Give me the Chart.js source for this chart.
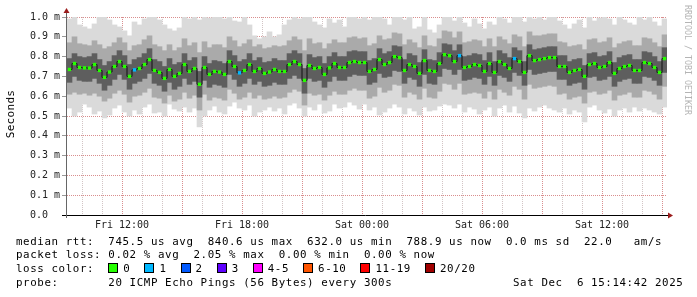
<!DOCTYPE html>
<html>
<head>
<meta charset="utf-8">
<script src="https://cdn.jsdelivr.net/npm/chart.js@4.4.1/dist/chart.umd.min.js"></script>
<style>
  body { margin: 0; background: #fff; }
  #wrap { position: relative; width: 697px; height: 297px; background: #fff; overflow: hidden; }
  #smoke { position: absolute; left: 0; top: 0; }
  .mono { position: absolute; font-family: 'DejaVu Sans Mono', monospace; color: #000; white-space: pre; }
  .line { left: 16px; font-size: 10.8px; letter-spacing: 0.6px; line-height: 14px; }
  .ylab { left: -19px; top: 107px; width: 60px; height: 14px; font-size: 11px; letter-spacing: 0.3px; line-height: 14px; text-align: center; transform: rotate(-90deg); }
  .mark { left: 683px; top: 5px; font-size: 8.3px; color: #b4b4b4; writing-mode: vertical-rl; }
  .box { display: inline-block; width: 8px; height: 8px; border: 1px solid #000; vertical-align: -1px; margin-right: 5px; }
  .item { margin-right: 14px; }
</style>
</head>
<body>
<div id="wrap">
  <canvas id="smoke" width="697" height="297"></canvas>
  <div class="mono ylab">Seconds</div>
  <div class="mono mark">RRDTOOL / TOBI OETIKER</div>
  <div class="mono line" id="l1" style="top:235px"></div>
  <div class="mono line" id="l2" style="top:248px"></div>
  <div class="mono line" id="l3" style="top:262px"></div>
  <div class="mono line" id="l4" style="top:276px"></div>
  <div class="mono line" id="l5" style="top:276px;left:513px"></div>
</div>
<script>
// valores em microssegundos, um passo a cada 15 min (Fri 09:15 .. Sat 15:15)
const median = [
  735, 765, 745, 743, 742, 760, 730, 695, 722, 750,
  775, 750, 700, 733, 740, 760, 785, 730, 720, 690,
  735, 700, 715, 760, 725, 740, 660, 745, 710, 725,
  722, 710, 775, 750, 718, 730, 760, 725, 740, 715,
  722, 735, 725, 725, 760, 775, 760, 680, 755, 740,
  745, 710, 743, 765, 745, 745, 770, 775, 770, 770,
  725, 735, 785, 760, 770, 800, 795, 730, 760, 750,
  715, 780, 730, 725, 765, 810, 805, 775, 805, 745,
  750, 760, 755, 725, 765, 720, 775, 760, 740, 790,
  775, 720, 805, 780, 785, 790, 795, 795, 750, 750,
  720, 730, 735, 700, 760, 765, 745, 750, 770, 715,
  740, 750, 755, 730, 730, 770, 765, 745, 720, 790
];
const smokeMax = [
  990, 1000, 960, 950, 940, 965, 1000, 1000, 985, 960,
  950, 930, 905, 975, 960, 990, 1000, 1000, 985, 960,
  940, 930, 945, 1000, 990, 1000, 985, 1000, 995, 1000,
  1000, 990, 1000, 980, 975, 1000, 960, 905, 890, 900,
  925, 900, 910, 960, 985, 1000, 990, 1000, 1000, 975,
  960, 945, 990, 970, 985, 950, 1000, 1000, 990, 1000,
  985, 1000, 1000, 990, 960, 1000, 1000, 985, 1000, 940,
  950, 1000, 935, 920, 960, 1000, 1000, 980, 1000, 970,
  950, 990, 965, 940, 975, 960, 1000, 990, 970, 1000,
  1000, 975, 1000, 990, 1000, 985, 1000, 1000, 980, 960,
  940, 965, 985, 945, 1000, 980, 995, 1000, 990, 960,
  1000, 985, 970, 960, 1000, 985, 1000, 975, 955, 990
];
const smokeMin = [
  540, 500, 520, 560, 545, 510, 525, 490, 505, 540,
  555, 520, 500, 530, 510, 545, 560, 515, 520, 500,
  560, 535, 525, 545, 520, 540, 445, 500, 530, 550,
  520, 510, 550, 570, 540, 530, 555, 500, 520, 530,
  545, 525, 540, 510, 555, 565, 540, 500, 545, 530,
  560, 515, 525, 560, 540, 545, 570, 555, 535, 560,
  530, 545, 505, 520, 540, 560, 545, 510, 540, 525,
  505, 545, 525, 530, 550, 560, 555, 540, 560, 520,
  545, 535, 510, 530, 545, 500, 540, 555, 520, 550,
  515, 490, 540, 525, 545, 555, 540, 530, 520, 540,
  510, 530, 520, 470, 545, 555, 530, 515, 535, 500,
  530, 540, 520, 545, 525, 540, 530, 520, 510, 545
];
const smokeHi2 = [
  870, 900, 865, 860, 855, 880, 860, 840, 850, 870,
  895, 870, 830, 855, 860, 885, 905, 860, 850, 830,
  860, 830, 845, 890, 855, 870, 820, 875, 845, 860,
  860, 845, 900, 880, 850, 865, 885, 850, 860, 840,
  845, 855, 850, 855, 880, 900, 885, 830, 890, 865,
  870, 840, 865, 885, 870, 870, 895, 900, 890, 895,
  855, 865, 905, 885, 890, 920, 915, 860, 885, 870,
  845, 905, 855, 850, 890, 930, 925, 895, 925, 870,
  875, 885, 880, 850, 890, 850, 900, 885, 865, 910,
  900, 850, 925, 905, 905, 910, 915, 915, 875, 870,
  850, 855, 860, 835, 885, 890, 870, 875, 895, 845,
  865, 875, 880, 855, 855, 895, 890, 870, 850, 910
];
const smokeLo2 = [
  610, 620, 610, 615, 605, 615, 600, 575, 590, 615,
  630, 610, 570, 600, 605, 620, 640, 595, 590, 565,
  605, 575, 585, 620, 590, 605, 530, 610, 580, 595,
  590, 580, 635, 615, 585, 595, 620, 590, 605, 585,
  590, 600, 590, 595, 620, 635, 625, 555, 615, 605,
  610, 580, 605, 625, 610, 610, 630, 640, 630, 630,
  590, 600, 645, 620, 630, 660, 655, 595, 620, 610,
  585, 640, 595, 590, 625, 665, 660, 635, 665, 610,
  615, 620, 615, 590, 625, 585, 635, 620, 605, 650,
  635, 585, 660, 640, 645, 650, 655, 650, 610, 615,
  585, 595, 600, 565, 620, 625, 610, 615, 630, 580,
  605, 610, 620, 595, 595, 630, 625, 610, 585, 650
];
const smokeHi1 = [
  790, 815, 800, 795, 800, 815, 785, 755, 775, 805,
  830, 805, 760, 785, 795, 815, 840, 785, 775, 750,
  790, 760, 770, 815, 780, 795, 725, 800, 765, 780,
  775, 765, 830, 805, 775, 785, 815, 780, 795, 770,
  775, 790, 780, 780, 815, 830, 815, 740, 810, 795,
  800, 765, 800, 820, 800, 800, 825, 830, 825, 825,
  780, 790, 840, 815, 825, 855, 850, 785, 815, 805,
  770, 835, 785, 780, 820, 865, 860, 830, 860, 800,
  805, 815, 810, 780, 820, 775, 830, 815, 795, 845,
  830, 775, 860, 835, 840, 845, 850, 850, 805, 805,
  775, 785, 790, 755, 815, 820, 800, 805, 825, 770,
  795, 805, 810, 785, 785, 825, 820, 800, 775, 845
];
const smokeLo1 = [
  670, 700, 680, 675, 675, 690, 665, 630, 655, 685,
  710, 685, 635, 665, 675, 690, 715, 665, 655, 625,
  670, 635, 650, 690, 660, 675, 595, 680, 645, 660,
  655, 645, 710, 685, 650, 665, 690, 660, 675, 650,
  655, 670, 660, 660, 690, 705, 690, 615, 690, 675,
  680, 645, 675, 700, 680, 680, 700, 710, 705, 705,
  660, 670, 715, 695, 700, 730, 725, 665, 695, 685,
  650, 710, 665, 660, 700, 740, 735, 710, 735, 680,
  685, 695, 690, 660, 700, 655, 705, 695, 675, 720,
  705, 655, 735, 710, 715, 720, 725, 725, 685, 685,
  655, 665, 670, 635, 695, 700, 680, 685, 700, 650,
  675, 685, 690, 665, 665, 700, 695, 680, 655, 720
];
// passos com 1 ping perdido
const lossSteps = [13, 34, 78, 89];

const xLabelHours = [2.75, 8.75, 14.75, 20.75, 26.75];
const xLabels = ['Fri 12:00', 'Fri 18:00', 'Sat 00:00', 'Sat 06:00', 'Sat 12:00'];

const lossNames = ['0', '1', '2', '3', '4-5', '6-10', '11-19', '20/20'];
const lossColors = ['#26ff00', '#00b8ff', '#0059ff', '#5e00ff', '#ff00ff', '#ff5500', '#ff0000', '#a00000'];

const statRtt = 'median rtt:  745.5 us avg  840.6 us max  632.0 us min  788.9 us now  0.0 ms sd  22.0   am/s';
const statLoss = 'packet loss: 0.02 % avg  2.05 % max  0.00 % min  0.00 % now';
const statProbe = 'probe:       20 ICMP Echo Pings (56 Bytes) every 300s';
const statDate = 'Sat Dec  6 15:14:42 2025';

// textos da legenda
document.getElementById('l1').textContent = statRtt;
document.getElementById('l2').textContent = statLoss;
document.getElementById('l4').textContent = statProbe;
document.getElementById('l5').textContent = statDate;
const l3 = document.getElementById('l3');
l3.appendChild(document.createTextNode('loss color:  '));
lossNames.forEach((name, i) => {
    const item = document.createElement('span');
    item.className = 'item';
    const box = document.createElement('span');
    box.className = 'box';
    box.style.background = lossColors[i];
    item.appendChild(box);
    item.appendChild(document.createTextNode(name));
    l3.appendChild(item);
});

const steps = median.map((_, i) => i);
const hourTicks = Array.from({ length: 30 }, (_, i) => i + 0.75);
const tickFont = { family: 'DejaVu Sans Mono', size: 10 };

function smokeBand(lo, hi, color, order) {
    return {
        type: 'bar',
        data: lo.map((v, i) => [v, hi[i]]),
        backgroundColor: color,
        borderWidth: 0,
        barPercentage: 1,
        categoryPercentage: 1,
        grouped: false,
        order: order
    };
}

// eixos com setas
const axisArrows = {
    id: 'axisArrows',
    afterDraw(chart) {
        const c = chart.ctx;
        const a = chart.chartArea;
        const yb = Math.round(chart.scales.y.getPixelForValue(0)) + 0.5;
        const xl = a.left - 0.5;
        c.save();
        c.lineWidth = 1;
        c.strokeStyle = '#000';
        c.beginPath(); c.moveTo(a.left - 5, yb); c.lineTo(a.right + 2, yb); c.stroke();
        c.strokeStyle = '#666';
        c.beginPath(); c.moveTo(xl, a.bottom + 3); c.lineTo(xl, a.top - 5); c.stroke();
        c.fillStyle = '#9b1c1c';
        c.beginPath(); c.moveTo(a.right + 6, yb); c.lineTo(a.right + 1, yb - 3); c.lineTo(a.right + 1, yb + 3); c.fill();
        c.beginPath(); c.moveTo(xl, a.top - 9); c.lineTo(xl - 3, a.top - 4); c.lineTo(xl + 3, a.top - 4); c.fill();
        c.restore();
    }
};

const ctx = document.getElementById('smoke').getContext('2d');
const smokeChart = new Chart(ctx, {
    type: 'bar',
    data: {
        labels: steps,
        datasets: [
            smokeBand(smokeMin, smokeMax, '#dadada', 4),
            smokeBand(smokeLo2, smokeHi2, '#aaaaaa', 3),
            smokeBand(smokeLo1, smokeHi1, '#5e5e5e', 2),
            {
                type: 'line',
                data: median,
                stepped: 'middle',
                borderColor: '#111',
                borderWidth: 1,
                pointStyle: 'rect',
                pointRadius: 2.4,
                pointBorderWidth: 0,
                pointBackgroundColor: median.map((_, i) => lossSteps.includes(i) ? lossColors[1] : lossColors[0]),
                order: 1
            }
        ]
    },
    options: {
        responsive: false,
        animation: false,
        events: [],
        devicePixelRatio: 1,
        layout: { padding: { left: 30, right: 30, top: 17, bottom: 0 } },
        plugins: { legend: { display: false }, tooltip: { enabled: false } },
        scales: {
            x: { type: 'category', display: false, offset: true },
            xt: {
                type: 'linear',
                position: 'bottom',
                min: 0,
                max: 30,
                offset: false,
                z: 1,
                afterBuildTicks: (s) => { s.ticks = hourTicks.map(v => ({ value: v })); },
                afterFit: (s) => { s.height = 82; s.paddingLeft = 0; s.paddingRight = 0; },
                ticks: {
                    autoSkip: false,
                    maxRotation: 0,
                    padding: 0,
                    color: '#222',
                    font: tickFont,
                    callback: (v) => {
                        const k = xLabelHours.indexOf(v);
                        return k >= 0 ? xLabels[k] : '';
                    }
                },
                grid: {
                    offset: false,
                    color: (c) => {
                        const v = c.tick ? c.tick.value : 0;
                        return Math.abs((v - 2.75) % 3) < 0.01 ? '#d98e8e' : '#d2c4c4';
                    },
                    borderDash: [1, 1],
                    tickLength: 4,
                    tickColor: 'rgba(0,0,0,0)'
                },
                border: { display: false, dash: [1, 1] }
            },
            y: {
                min: 0,
                max: 1000,
                z: 1,
                afterFit: (s) => { s.width = 37; s.paddingTop = 0; s.paddingBottom = 0; },
                ticks: {
                    stepSize: 100,
                    crossAlign: 'far',
                    color: '#222',
                    font: tickFont,
                    callback: (v) => v === 0 ? '0.0' : (v / 1000).toFixed(1) + ' m'
                },
                grid: {
                    color: (c) => c.tick && c.tick.value === 0 ? 'rgba(0,0,0,0)' : '#d98e8e',
                    borderDash: [1, 1],
                    tickLength: 5,
                    tickColor: '#999',
                    tickBorderDash: []
                },
                border: { display: false, dash: [1, 1] }
            }
        }
    },
    plugins: [axisArrows]
});
</script>
</body>
</html>
